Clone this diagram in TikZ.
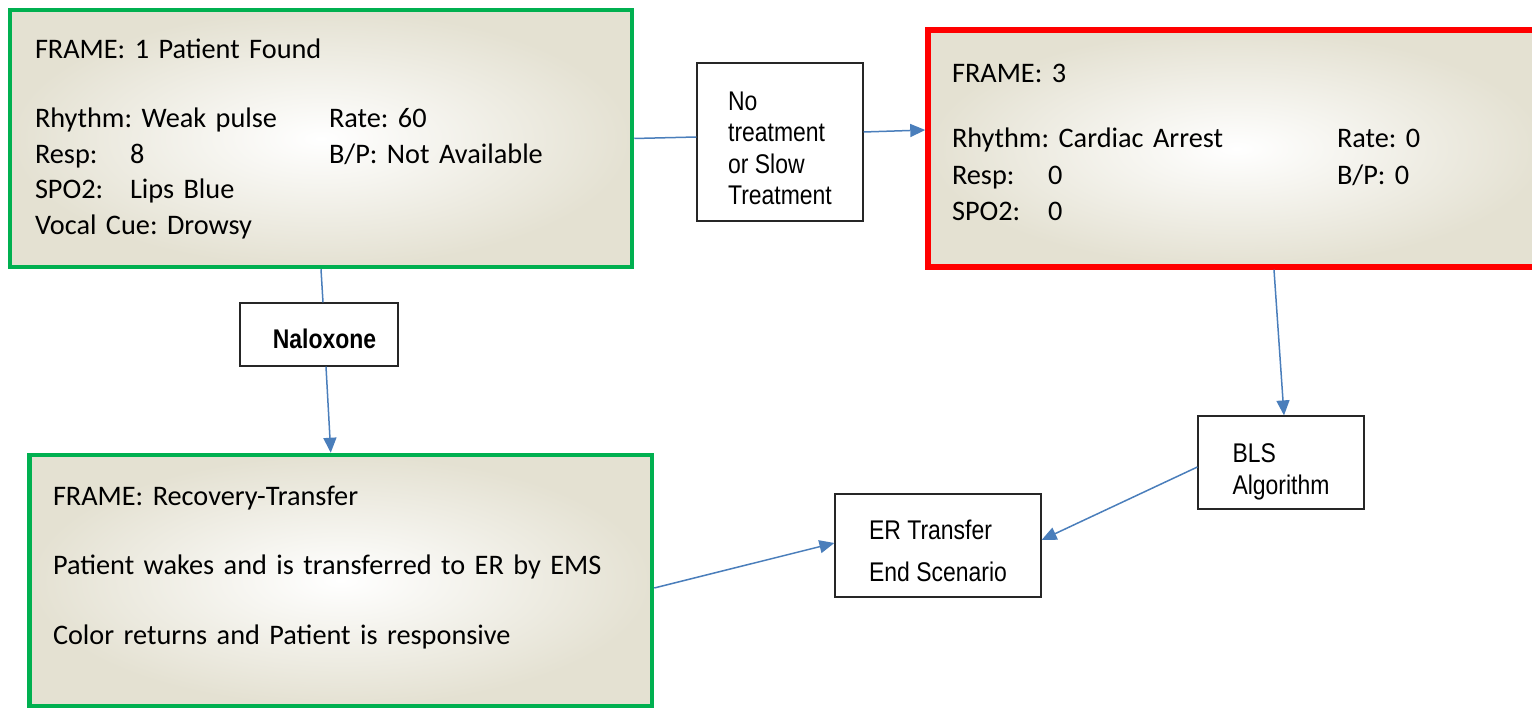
\documentclass[tikz,border=0pt]{standalone}
\usepackage{fontspec}
\setmainfont{Carlito}
\newfontfamily\narrowsf[FakeStretch=0.85]{Liberation Sans}
\usetikzlibrary{arrows.meta}
\definecolor{framegreen}{RGB}{0,176,80}
\definecolor{framered}{RGB}{255,0,0}
\definecolor{linkblue}{RGB}{74,126,187}
\definecolor{parchment}{RGB}{228,225,210}
\frenchspacing
\begin{document}
\begin{tikzpicture}[x=1pt,y=-1pt,
    framebox/.style={rectangle,inner sep=0pt,align=left,inner color=white,outer color=parchment,
      font={\fontsize{28.3}{35.5}\selectfont}},
    notebox/.style={rectangle,draw=black!85,line width=1.2pt,fill=white,inner sep=0pt,align=left,
      font={\narrowsf\fontsize{27}{31.5}\selectfont}},
    link/.style={draw=linkblue,line width=1.5pt},
    flow/.style={link,-{Triangle[length=15pt,width=13pt]}}]
  \useasboundingbox (0,0) rectangle (1532,708);

  \node[framebox,draw=framegreen,line width=4.5pt,minimum width=622pt,minimum height=257pt,
    inner xsep=25pt,text width=572pt] (frame1) at (321,138.5)
    {FRAME: 1 Patient Found\\[34pt]
     \makebox[294pt][l]{Rhythm: Weak pulse}Rate: 60\\
     \makebox[294pt][l]{\makebox[95pt][l]{Resp:}8}B/P: Not Available\\
     \makebox[95pt][l]{SPO2:}Lips Blue\\
     Vocal Cue: Drowsy};
  \node[framebox,draw=framered,line width=5.5pt,minimum width=617pt,minimum height=237pt,
    inner xsep=24pt,text width=569pt,font={\fontsize{28.3}{36.5}\selectfont}] (frame3) at (1236.5,148.5)
    {FRAME: 3\\[28.5pt]
     \makebox[385pt][l]{Rhythm: Cardiac Arrest}Rate: 0\\
     \makebox[385pt][l]{\makebox[96pt][l]{Resp:}0}B/P: 0\\
     \makebox[96pt][l]{SPO2:}0\rule[-12pt]{0pt}{12pt}};
  \node[framebox,draw=framegreen,line width=4.5pt,minimum width=622.5pt,minimum height=251pt,
    inner xsep=23.5pt,text width=575.5pt,font={\fontsize{28.3}{35}\selectfont}] (recovery) at (340.75,580.5)
    {FRAME: Recovery-Transfer\\[34.5pt]
     Patient wakes and is transferred to ER by EMS\\[34.5pt]
     Color returns and Patient is responsive\rule[-31pt]{0pt}{31pt}};

  \node[notebox,minimum width=166pt,minimum height=158pt] (notreat) at (780,142)
    {\rule{0pt}{31.3pt}No\\treatment\\or Slow\\Treatment};
  \node[notebox,minimum width=158pt,minimum height=63pt] (naloxone) at (319,334.5)
    {\rule{0pt}{28.3pt}\hspace*{11pt}\textbf{Naloxone}};
  \node[notebox,minimum width=166pt,minimum height=93pt,font={\narrowsf\fontsize{27}{32}\selectfont}] (bls) at (1281,462.5)
    {\rule{0pt}{38pt}BLS\\Algorithm};
  \node[notebox,minimum width=206pt,minimum height=103pt,font={\narrowsf\fontsize{27}{42}\selectfont}] (ertransfer) at (938,545.5)
    {\rule{0pt}{30.3pt}ER Transfer\\End Scenario};

  \draw[link] (frame1.east) -- ([yshift=5pt]notreat.west);
  \draw[flow] ([yshift=10pt]notreat.east) -- ([yshift=18.5pt]frame3.west);
  \draw[link] (frame1.south) -- ([xshift=4pt]naloxone.north);
  \draw[flow] ([xshift=7pt]naloxone.south) -- ([xshift=-10pt]recovery.north);
  \draw[flow] ([xshift=37.5pt]frame3.south) -- ([xshift=3pt]bls.north);
  \draw[flow] ([yshift=-4.5pt]bls.west) -- ([yshift=5.5pt]ertransfer.east);
  \draw[flow] ([yshift=-7.5pt]recovery.east) -- ([yshift=2.5pt]ertransfer.west);
\end{tikzpicture}
\end{document}
